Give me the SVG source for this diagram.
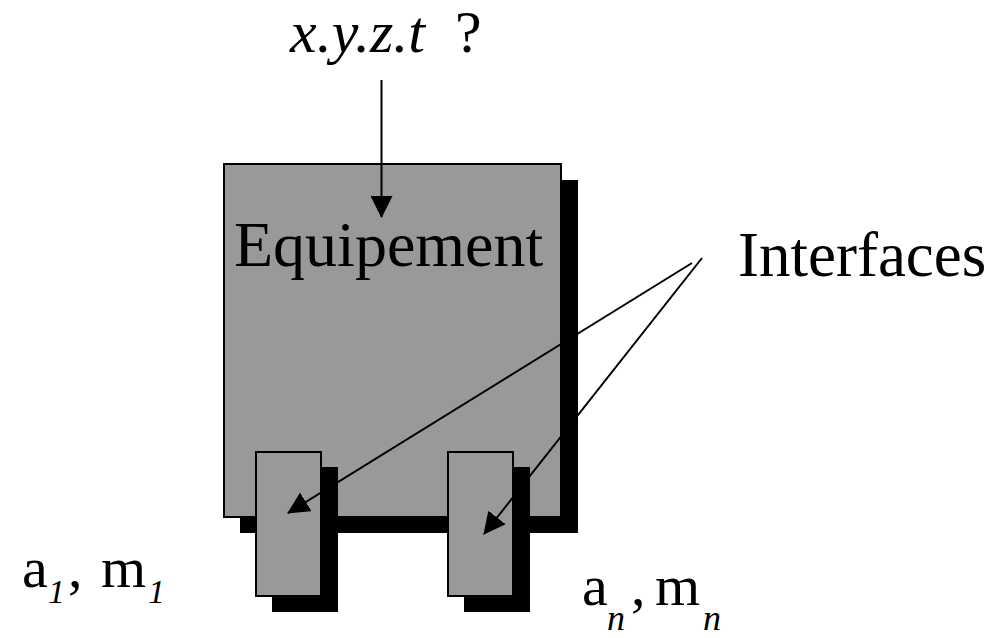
<svg xmlns="http://www.w3.org/2000/svg" width="1001" height="638" viewBox="0 0 1001 638">
<style>
.box{fill:#999999;stroke:#000;stroke-width:2}
.shadow{fill:#000}
.conn{stroke:#000;stroke-width:2;fill:none}
</style>
<defs>
<marker id="ah" markerWidth="22" markerHeight="22" viewBox="0 0 22 22" refX="21" refY="11" orient="auto" markerUnits="userSpaceOnUse">
<path d="M0,0 L22,11 L0,22 Z" fill="#000"/>
</marker>
</defs>
<rect width="1001" height="638" fill="#fff"/>
<g id="equipement">
<rect class="shadow" x="240" y="180" width="338" height="353"/>
<rect class="box" x="224" y="164" width="337" height="353"/>
<text x="234" y="266" font-family="'Liberation Serif', 'Times New Roman', serif" font-size="64" fill="#000">Equipement</text>
</g>
<g id="interface1">
<rect class="shadow" x="272" y="467" width="66" height="145"/>
<rect class="box" x="256" y="452" width="65" height="144"/>
</g>
<g id="interface2">
<rect class="shadow" x="464" y="467" width="66" height="145"/>
<rect class="box" x="448" y="452" width="65" height="144"/>
</g>
<g id="labels" font-family="'Liberation Serif', 'Times New Roman', serif" fill="#000">
<text x="290" y="52" font-size="60"><tspan font-style="italic">x.y.z.t</tspan><tspan x="455">?</tspan></text>
<text x="738" y="276" font-size="63">Interfaces</text>
<text x="22" y="587" font-size="58">a<tspan x="48" dy="16" font-size="34" font-style="italic">1</tspan><tspan x="68" dy="-16">,</tspan><tspan x="101">m</tspan><tspan x="148" dy="16" font-size="34" font-style="italic">1</tspan></text>
<text x="582" y="605" font-size="58">a<tspan x="607" dy="25" font-size="36" font-style="italic">n</tspan><tspan x="631" dy="-25">,</tspan><tspan x="655">m</tspan><tspan x="703" dy="25" font-size="36" font-style="italic">n</tspan></text>
</g>
<g id="connectors">
<line class="conn" x1="381.5" y1="80" x2="381.5" y2="217" marker-end="url(#ah)"/>
<line class="conn" x1="692" y1="263" x2="288" y2="513" marker-end="url(#ah)"/>
<line class="conn" x1="702" y1="258" x2="484" y2="534" marker-end="url(#ah)"/>
</g>
</svg>
